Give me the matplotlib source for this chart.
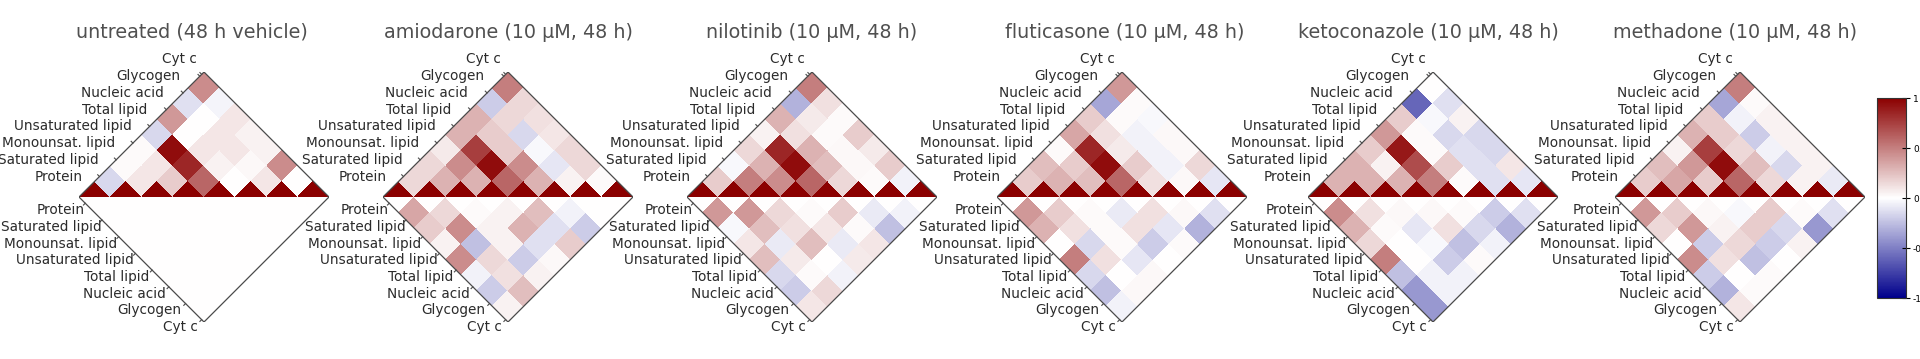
import numpy as np
import matplotlib
matplotlib.use("Agg")
import matplotlib.pyplot as plt
from matplotlib.colors import LinearSegmentedColormap, Normalize
from matplotlib.patches import Polygon
from matplotlib.path import Path
from matplotlib.transforms import Affine2D
import matplotlib.cm as cm

labels = ["Protein", "Saturated lipid", "Monounsat. lipid", "Unsaturated lipid",
          "Total lipid", "Nucleic acid", "Glycogen", "Cyt c"]

titles = ["untreated (48 h vehicle)", "amiodarone (10 μM, 48 h)", "nilotinib (10 μM, 48 h)",
          "fluticasone (10 μM, 48 h)", "ketoconazole (10 μM, 48 h)", "methadone (10 μM, 48 h)"]

# correlation, strict lower triangle: row k = label k against labels 0..k-1
corr_untreated = [
    [-0.15],
    [0.02, 0.10],
    [0.02, 0.10, 0.20],
    [-0.15, 0.95, 0.85, 0.60],
    [0.40, 0.00, 0.10, 0.05, 0.00],
    [-0.12, 0.00, 0.10, 0.10, 0.03, 0.10],
    [0.45, -0.04, 0.10, 0.05, 0.05, 0.45, 0.00],
]
corr_amiodarone = [
    [0.15],
    [0.15, 0.30],
    [0.08, 0.45, 0.30],
    [0.30, 0.75, 0.95, 0.60],
    [0.30, 0.20, 0.20, 0.45, 0.30],
    [-0.20, 0.15, -0.15, -0.03, -0.10, 0.05],
    [0.50, 0.15, 0.12, 0.10, 0.15, 0.15, 0.02],
]
corr_nilotinib = [
    [0.20],
    [-0.03, 0.50],
    [0.15, 0.30, 0.45],
    [0.05, 0.85, 0.95, 0.60],
    [0.30, 0.12, 0.30, 0.25, 0.15],
    [-0.30, 0.08, 0.02, 0.03, 0.03, 0.02],
    [0.50, 0.12, 0.02, 0.20, 0.08, 0.20, -0.05],
]
corr_fluticasone = [
    [0.20],
    [0.25, 0.30],
    [0.02, 0.20, 0.25],
    [0.35, 0.85, 0.95, 0.60],
    [0.20, 0.12, 0.08, 0.20, 0.12],
    [-0.35, 0.02, -0.05, -0.05, -0.05, 0.03],
    [0.40, 0.02, -0.03, 0.03, 0.03, 0.15, -0.10],
]
corr_ketoconazole = [
    [0.30],
    [0.30, 0.30],
    [0.20, 0.05, 0.30],
    [0.40, 0.90, 0.70, 0.50],
    [0.20, 0.02, 0.02, 0.20, 0.02],
    [-0.60, -0.03, -0.15, -0.12, -0.12, -0.12],
    [0.00, -0.12, 0.05, -0.15, -0.15, 0.10, -0.10],
]
corr_methadone = [
    [0.20],
    [0.25, 0.35],
    [0.05, 0.40, 0.20],
    [0.30, 0.75, 0.95, 0.60],
    [0.20, 0.20, 0.15, 0.25, 0.15],
    [-0.35, -0.05, -0.20, -0.05, -0.15, 0.05],
    [0.50, 0.02, 0.05, 0.05, 0.05, 0.05, -0.08],
]

# difference to untreated, same layout
diff_untreated = [
    [0.0],
    [0.0, 0.0],
    [0.0, 0.0, 0.0],
    [0.0, 0.0, 0.0, 0.0],
    [0.0, 0.0, 0.0, 0.0, 0.0],
    [0.0, 0.0, 0.0, 0.0, 0.0, 0.0],
    [0.0, 0.0, 0.0, 0.0, 0.0, 0.0, 0.0],
]
diff_amiodarone = [
    [0.35],
    [0.20, 0.15],
    [0.05, 0.45, 0.02],
    [0.45, -0.25, 0.05, 0.05],
    [-0.05, 0.15, 0.05, 0.30, 0.25],
    [-0.20, 0.12, -0.20, -0.12, -0.12, -0.05],
    [0.05, 0.25, 0.05, 0.03, 0.20, -0.20, 0.00],
]
diff_nilotinib = [
    [0.40],
    [-0.03, 0.40],
    [0.10, 0.25, 0.15],
    [0.25, -0.08, 0.12, 0.02],
    [-0.15, 0.08, 0.25, 0.10, 0.20],
    [-0.20, 0.02, 0.00, -0.08, 0.02, -0.08],
    [0.10, 0.15, -0.05, 0.08, 0.10, -0.25, -0.05],
]
diff_fluticasone = [
    [0.40],
    [0.30, 0.20],
    [0.00, 0.12, 0.02],
    [0.50, -0.15, 0.02, -0.08],
    [-0.15, 0.12, 0.02, 0.12, 0.12],
    [-0.25, 0.00, -0.10, -0.20, -0.10, 0.03],
    [-0.05, 0.03, 0.03, 0.00, 0.02, -0.30, -0.12],
]
diff_ketoconazole = [
    [0.45],
    [0.30, 0.12],
    [0.15, 0.02, 0.03],
    [0.50, 0.00, -0.10, 0.03],
    [-0.25, 0.00, -0.03, 0.12, 0.02],
    [-0.40, -0.05, -0.20, -0.25, -0.15, -0.20],
    [-0.40, -0.05, -0.05, 0.02, -0.05, -0.30, -0.12],
]
diff_methadone = [
    [0.40],
    [0.15, 0.20],
    [0.00, 0.40, 0.03],
    [0.45, -0.20, 0.05, -0.03],
    [-0.20, 0.12, 0.15, 0.20, 0.20],
    [-0.30, 0.00, -0.25, -0.20, -0.15, 0.02],
    [0.10, 0.02, 0.02, 0.00, 0.05, -0.40, -0.12],
]

corr_sets = [corr_untreated, corr_amiodarone, corr_nilotinib,
             corr_fluticasone, corr_ketoconazole, corr_methadone]
diff_sets = [diff_untreated, diff_amiodarone, diff_nilotinib,
             diff_fluticasone, diff_ketoconazole, diff_methadone]

W, H = 1920, 359
panel_left = [79, 383, 687, 997, 1308, 1615]   # left corner of each diamond, px
title_cx = [192, 508, 812, 1125, 1428, 1735]
base_y = 197
size = 250

cmap = LinearSegmentedColormap.from_list("bwr_dark", ["#00008b", "#ffffff", "#8b0000"])
N = len(labels)
SQ2 = np.sqrt(2)


def full_matrix(rows, diag):
    m = np.full((N, N), float(diag))
    for i, row in enumerate(rows, start=1):
        for j, v in enumerate(row):
            m[i, j] = v
            m[j, i] = v
    return m


def draw_panel(ax, corr, diff, title, tx):
    rot = Affine2D().rotate_deg(-45) + ax.transData
    edges = np.arange(N + 1)
    upper = Path([(0, 0), (0, N), (N, N), (0, 0)], closed=True)
    lower = Path([(0, 0), (N, 0), (N, N), (0, 0)], closed=True)
    for mat, tri in ((corr, upper), (diff, lower)):
        mesh = ax.pcolormesh(edges, edges, mat, cmap=cmap, vmin=-1, vmax=1,
                             transform=rot, shading="flat", antialiased=False, linewidth=0)
        mesh.set_clip_path(tri, rot)

    ax.add_patch(Polygon([(0, 0), (N, 0), (N, N), (0, N)], closed=True, fill=False,
                         edgecolor="#4a4a4a", lw=0.9, transform=rot))

    d = 0.08
    top = (N - 0.15) / SQ2
    for k, lab in enumerate(labels):
        # small ticks on the two left edges, next to each label
        p = min((1.31 + 1.07 * k) / SQ2, top)
        q = min((0.40 + 1.07 * k) / SQ2, top)
        ax.plot([p, p - d], [p, p + d], color="#4a4a4a", lw=0.8, clip_on=False)
        ax.plot([q, q - d], [-q, -q - d], color="#4a4a4a", lw=0.8, clip_on=False)
        ax.text((0.24 + 1.04 * k) / SQ2, (1.31 + 1.07 * k) / SQ2, lab, ha="right", va="center",
                fontsize=9.8, color="#2b2b2b", clip_on=False)
        ax.text((0.39 + 1.03 * k) / SQ2, -(0.84 + 1.07 * k) / SQ2, lab, ha="right", va="center",
                fontsize=9.8, color="#2b2b2b", clip_on=False)

    ax.set_xlim(0, N * SQ2)
    ax.set_ylim(-N / SQ2, N / SQ2)
    ax.axis("off")
    ax.figure.text(tx / W, 1 - 32 / H, title, ha="center", va="center",
                   fontsize=13.8, color="#505050")


fig = plt.figure(figsize=(W / 100, H / 100), dpi=100)

for i in range(len(titles)):
    ax = fig.add_axes([panel_left[i] / W, 1 - (base_y + size / 2) / H, size / W, size / H])
    draw_panel(ax, full_matrix(corr_sets[i], 1.0), full_matrix(diff_sets[i], 0.0),
               titles[i], title_cx[i])

cax = fig.add_axes([1877 / W, 1 - 298 / H, 29 / W, 200 / H])
sm = cm.ScalarMappable(norm=Normalize(-1, 1), cmap=cmap)
cb = fig.colorbar(sm, cax=cax, ticks=[-1, -0.5, 0, 0.5, 1])
cb.ax.set_yticklabels(["-1", "-0.5", "0", "0.5", "1"])
cb.ax.tick_params(direction="inout", length=6, width=0.8, labelsize=6.5, pad=2)
cb.outline.set_edgecolor("#333333")
cb.outline.set_linewidth(0.8)

fig.savefig("out.png", dpi=100)
